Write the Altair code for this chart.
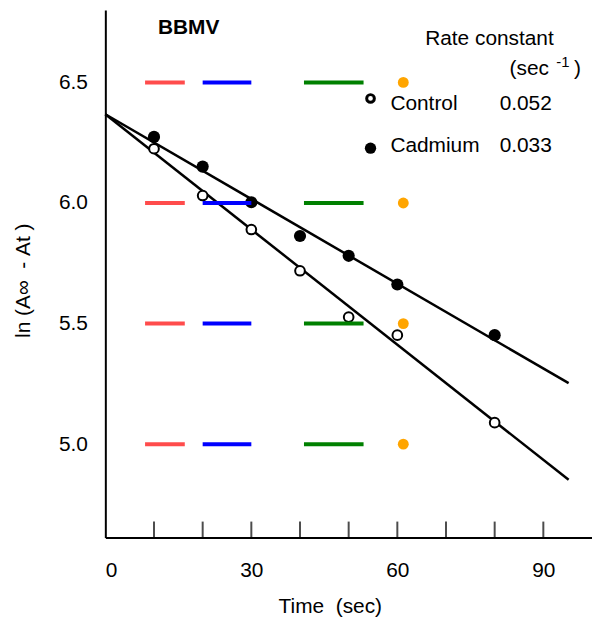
import altair as alt
import pandas as pd

# ---- data ----
time_s = [10, 20, 30, 40, 50, 60, 80]
control = [6.225, 6.031, 5.890, 5.719, 5.527, 5.452, 5.089]
cadmium = [6.274, 6.151, 6.003, 5.863, 5.781, 5.662, 5.452]

fit_t = [0, 95.2]
control_fit = [6.368, 4.852]
cadmium_fit = [6.368, 5.253]

x_minor_ticks = [10, 20, 30, 40, 50, 60, 70, 80, 90]
x_tick_labels = [0, 30, 60, 90]
y_tick_labels = [5.0, 5.5, 6.0, 6.5]

legend_names = ["Control", "Cadmium"]
legend_rates = ["0.052", "0.033"]

FONT = "Liberation Sans"
NB = "\u00a0"
W, H = 490, 531

points = pd.DataFrame({
    "t": time_s * 2,
    "v": control + cadmium,
    "series": ["Control"] * len(time_s) + ["Cadmium"] * len(time_s),
})
fits = pd.DataFrame({
    "t": fit_t * 2,
    "v": control_fit + cadmium_fit,
    "series": ["Control"] * 2 + ["Cadmium"] * 2,
})
xt = pd.DataFrame({"t": x_minor_ticks})
yt = pd.DataFrame({"v": y_tick_labels})
yt_seg = pd.DataFrame({
    "t": [20.0, 30.0] * len(y_tick_labels),
    "v": [v for v in y_tick_labels for _ in range(2)],
    "k": [str(v) for v in y_tick_labels for _ in range(2)],
})
one = pd.DataFrame({"a": [0]})

xscale = alt.Scale(domain=[0, 100], nice=False, zero=False)
yscale = alt.Scale(domain=[4.613, 6.80], nice=False, zero=False)

x_axis = alt.Axis(values=x_tick_labels, ticks=False, tickSize=0, labelPadding=22,
                  labelFontSize=21, title="Time" + NB + NB + "(sec)", titleFontSize=21,
                  titleFontWeight="normal", titleX=226, titleY=76, grid=False,
                  titleAlign="center", titleBaseline="alphabetic")
y_axis = alt.Axis(values=y_tick_labels, format=".1f", ticks=False, tickSize=0,
                  labelPadding=18, labelFontSize=21, grid=False,
                  title="ln" + NB + "(A\u221e" + NB + NB + "-" + NB + "At" + NB + ")",
                  titleFontSize=21, titleFontWeight="normal", titleX=-76,
                  titleY=272, titleAlign="center", titleBaseline="alphabetic")

X = alt.X("t:Q", scale=xscale, axis=x_axis)
Y = alt.Y("v:Q", scale=yscale, axis=y_axis)

lines = alt.Chart(fits).mark_line(color="black", strokeWidth=2.5).encode(
    x=X, y=Y, detail="series:N")

ctrl_pts = alt.Chart(points).transform_filter(alt.datum.series == "Control").mark_point(
    shape="circle", filled=True, fill="white", stroke="black", strokeWidth=2, size=95,
    opacity=1).encode(x=X, y=Y)

cad_pts = alt.Chart(points).transform_filter(alt.datum.series == "Cadmium").mark_circle(
    color="black", size=150, opacity=1).encode(x=X, y=Y)

x_ticks = alt.Chart(xt).mark_tick(orient="vertical", color="black", thickness=2,
                                  size=16).encode(x=X, y=alt.value(H - 8))
# diagnostic variants of the y ticks
diag_a = alt.Chart(yt).mark_tick(orient="horizontal", color="red", thickness=4,
                                 size=40).encode(y=Y, x=alt.value(60))
diag_b = alt.Chart(yt_seg).mark_line(color="blue", strokeWidth=4).encode(
    x=X, y=Y, detail="k:N")
diag_c = alt.Chart(yt).mark_rule(color="green", strokeWidth=4).encode(
    y=Y, x=alt.value(200), x2=alt.value(260))
diag_d = alt.Chart(yt).mark_point(color="orange", filled=True, size=120,
                                  opacity=1).encode(y=Y, x=alt.value(300))


def txt(s, x, y, size=21, weight="normal"):
    return alt.Chart(one).mark_text(text=s, align="left", baseline="alphabetic",
                                    font=FONT, fontSize=size, fontWeight=weight,
                                    color="black").encode(x=alt.value(x), y=alt.value(y))


texts = [
    txt("BBMV", 53, 24, 21, "bold"),
    txt("Rate constant", 322, 35),
    txt("(sec", 407, 65),
    txt("-1", 454, 57, 15),
    txt(")", 472, 65),
    txt(legend_names[0], 287, 101),
    txt(legend_rates[0], 397, 101),
    txt(legend_names[1], 287, 143),
    txt(legend_rates[1], 397, 143),
]

leg_ctrl = alt.Chart(one).mark_point(shape="circle", filled=False, stroke="black",
                                     strokeWidth=3, size=60, opacity=1).encode(
    x=alt.value(267), y=alt.value(89))
leg_cad = alt.Chart(one).mark_circle(color="black", size=130, opacity=1).encode(
    x=alt.value(267), y=alt.value(139))

chart = alt.layer(lines, ctrl_pts, cad_pts, x_ticks, diag_a, diag_b, diag_c, diag_d,
                  leg_ctrl, leg_cad, *texts).properties(
    width=W, height=H,
    autosize=alt.AutoSizeParams(type="none"),
    padding={"left": 98, "top": 0, "right": 0, "bottom": 81},
    background="white",
).configure_view(stroke=None).configure_axis(
    labelFont=FONT, titleFont=FONT, labelColor="black", titleColor="black",
    domainColor="black", domainWidth=2,
)

chart.save("out.html", embed_options={"renderer": "svg", "actions": False})
